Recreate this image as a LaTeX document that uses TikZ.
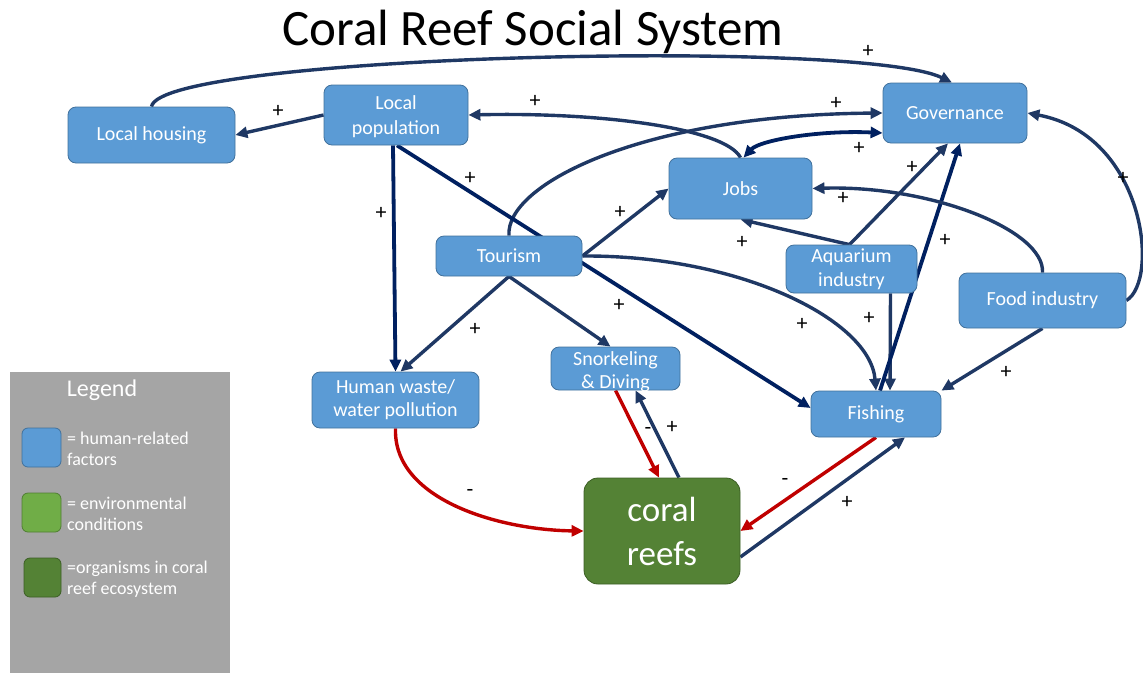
\documentclass[tikz,border=0pt]{standalone}
\usepackage{fontspec}
\setmainfont{Carlito}
\usetikzlibrary{arrows.meta}
\definecolor{nodeblue}{HTML}{5B9BD5}
\definecolor{nodeedge}{HTML}{41719C}
\definecolor{navy}{HTML}{1F3864}
\definecolor{deepnavy}{HTML}{002060}
\definecolor{arrred}{HTML}{C00000}
\definecolor{reefgreen}{HTML}{548235}
\definecolor{reefedge}{HTML}{3B5E24}
\definecolor{envgreen}{HTML}{70AD47}
\definecolor{envedge}{HTML}{507E32}
\definecolor{legendgray}{HTML}{A5A5A5}
\pgfdeclarelayer{background}
\pgfsetlayers{background,main}
\begin{document}
\begin{tikzpicture}[x=1pt,y=-1pt,
  factor/.style={draw=nodeedge, line width=0.8pt, fill=nodeblue, rounded corners=8pt,
    text=white, font=\fontsize{20}{24}\selectfont, align=center, inner sep=0pt},
  link/.style={draw=navy, line width=3.4pt, -{Triangle[length=12pt,width=11pt]}},
  deeplink/.style={draw=deepnavy, line width=3.8pt, -{Triangle[length=12pt,width=11pt]}},
  bothlink/.style={draw=deepnavy, line width=3.8pt, {Triangle[length=12pt,width=11pt]}-{Triangle[length=12pt,width=11pt]}},
  redlink/.style={draw=arrred, line width=3.4pt, -{Triangle[length=12pt,width=11pt]}},
  pmlabel/.style={font=\fontsize{22}{24}\selectfont, text=black, inner sep=0pt},
  swatch/.style={minimum width=39pt, minimum height=39pt, rounded corners=6pt, line width=0.8pt, inner sep=0pt},
  legtext/.style={font=\fontsize{18}{21}\selectfont, text=white, align=left, inner sep=0pt, anchor=west}
]
\useasboundingbox (0,0) rectangle (1143,673);

% title
\node[font=\fontsize{51}{60}\selectfont, anchor=base, inner sep=0pt] (title) at (533,45) {Coral Reef Social System};

% nodes
\node[factor, minimum width=167pt, minimum height=56pt] (house) at (151.5,135) {Local housing};
\node[factor, minimum width=144pt, minimum height=60pt,
  label={[name=poptext, text=white, font=\fontsize{20}{25}\selectfont, align=center, inner sep=0pt, yshift=-2pt]center:Local\\population}] (pop) at (396,115) {};
\node[factor, minimum width=144pt, minimum height=60pt] (gov) at (955,113) {Governance};
\node[factor, minimum width=143pt, minimum height=61pt] (jobs) at (740.5,188.5) {Jobs};
\node[factor, minimum width=146pt, minimum height=40pt] (tour) at (509,256) {Tourism};
\node[factor, minimum width=131pt, minimum height=48pt] (aqua) at (851.5,269) {Aquarium\\industry};
\node[factor, minimum width=167pt, minimum height=55pt] (food) at (1042.5,300.5) {Food industry};
\node[factor, minimum width=167pt, minimum height=56pt, font=\fontsize{20}{23}\selectfont] (waste) at (395.5,400) {Human waste/\\water pollution};
\node[factor, minimum width=129pt, minimum height=43pt,
  label={[name=snorktext, text=white, font=\fontsize{20}{23}\selectfont, align=center, inner sep=0pt, yshift=-3pt]center:Snorkeling\\\& Diving}] (snork) at (615.5,368.5) {};
\node[factor, minimum width=130pt, minimum height=46pt] (fish) at (876,414) {Fishing};
\node[factor, fill=reefgreen, draw=reefedge, rounded corners=14pt, minimum width=156pt, minimum height=106pt,
  font=\fontsize{35}{44}\selectfont] (coral) at (662,531) {coral\\reefs};

% connectors
\begin{pgfonlayer}{background}
\draw[link] (house.north) .. controls (160,55) and (860,38) .. ([xshift=-3pt]gov.north);
\draw[link] (pop.west) -- (house.east);
\draw[link] (jobs.north) .. controls (725,128) and (600,112) .. (pop.east);
\draw[bothlink] ([xshift=3pt]jobs.north) .. controls (760,140) and (820,130) .. ([yshift=-20pt]gov.west);
\draw[link] (tour.north) .. controls (505,185) and (640,115) .. (gov.west);
\draw[deeplink] ([xshift=1pt]pop.south) -- ([yshift=6pt]fish.west);
\draw[deeplink] ([xshift=-3pt]pop.south) -- (waste.north);
\draw[link] (tour.south) -- ([xshift=5pt]waste.north);
\draw[link] (tour.south) -- ([xshift=-5pt]snork.north);
\draw[link] (tour.east) -- (jobs.west);
\draw[link] (tour.east) .. controls (740,255) and (870,320) .. (fish.north);
\draw[link] ([xshift=-2pt]aqua.north) -- (jobs.south);
\draw[link] ([xshift=-2pt]aqua.north) -- ([xshift=-7pt]gov.south);
\draw[link] ([xshift=39pt]aqua.south) -- ([xshift=14pt]fish.north);
\draw[deeplink] ([xshift=4pt]fish.north) -- ([xshift=5pt]gov.south);
\draw[link] (food.north) .. controls (1045,230) and (930,185) .. (jobs.east);
\draw[link] (food.east) .. controls (1160,280) and (1145,135) .. (gov.east);
\draw[link] (food.south) -- (fish.north east);
\draw[redlink] (snork.south) -- ([xshift=-3pt]coral.north);
\draw[link] ([xshift=17pt]coral.north) -- ([xshift=20pt]snork.south);
\draw[redlink] (waste.south) .. controls (393,500) and (500,530) .. (coral.west);
\draw[redlink] (fish.south) -- (coral.east);
\draw[link] ([yshift=-26pt]coral.east) -- ([xshift=29pt]fish.south);
\end{pgfonlayer}

% signs
\node[pmlabel] (s1) at (868,51) {+};
\node[pmlabel] (s2) at (278,111) {+};
\node[pmlabel] (s3) at (535,101) {+};
\node[pmlabel] (s4) at (836,103) {+};
\node[pmlabel] (s5) at (859,148) {+};
\node[pmlabel] (s6) at (912,167) {+};
\node[pmlabel] (s7) at (1123,178) {+};
\node[pmlabel] (s8) at (470,178) {+};
\node[pmlabel] (s9) at (381,213) {+};
\node[pmlabel] (s10) at (620,212) {+};
\node[pmlabel] (s11) at (843,198) {+};
\node[pmlabel] (s12) at (742,242) {+};
\node[pmlabel] (s13) at (945,240) {+};
\node[pmlabel] (s14) at (619,305) {+};
\node[pmlabel] (s15) at (475,329) {+};
\node[pmlabel] (s16) at (802,324) {+};
\node[pmlabel] (s17) at (869,318) {+};
\node[pmlabel] (s18) at (1006,372) {+};
\node[pmlabel] (s19) at (672,427) {+};
\node[pmlabel] (s20) at (648,431) {-};
\node[pmlabel] (s21) at (470,493) {-};
\node[pmlabel] (s22) at (785,482) {-};
\node[pmlabel] (s23) at (847,502) {+};

% legend
\node[fill=legendgray, minimum width=220pt, minimum height=301pt, inner sep=0pt, anchor=north west] (legend) at (10,372) {};
\node[font=\fontsize{24}{28}\selectfont, text=white, inner sep=0pt] (legendtitle) at (102,390) {Legend};
\node[swatch, fill=nodeblue, draw=nodeedge] (sw1) at (41.5,447.5) {};
\node[swatch, fill=envgreen, draw=envedge] (sw2) at (41.5,512.5) {};
\node[swatch, fill=reefgreen, draw=reefedge, minimum width=37pt] (sw3) at (42.5,577.5) {};
\node[legtext] (lt1) at (67,449) {= human-related\\factors};
\node[legtext] (lt2) at (67,514) {= environmental\\conditions};
\node[legtext] (lt3) at (67,579) {=organisms in coral\\reef ecosystem};
\end{tikzpicture}
\end{document}
